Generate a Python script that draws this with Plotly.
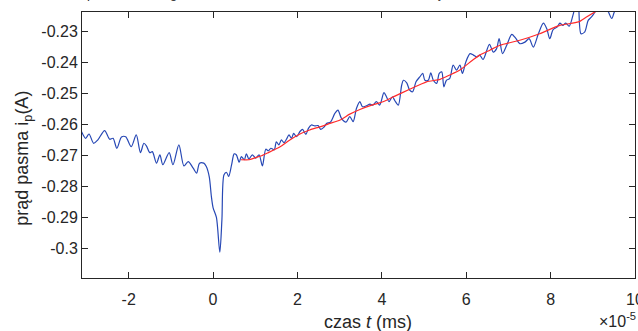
import plotly.graph_objects as go

# measured signal (time in units of 1e-5 ms)
t_signal = [-3.12, -3.02, -2.94, -2.83, -2.73, -2.57, -2.45, -2.37, -2.28, -2.17,
            -2.07, -1.94, -1.82, -1.72, -1.64, -1.58, -1.50, -1.44, -1.34, -1.26,
            -1.19, -1.04, -0.95, -0.81, -0.69, -0.59, -0.47, -0.39, -0.32, -0.22,
            -0.16, -0.09, -0.04, 0.00, 0.08, 0.16, 0.21, 0.26, 0.32, 0.37,
            0.44, 0.50, 0.55, 0.62, 0.67, 0.74, 0.79, 0.85, 0.93, 1.01,
            1.09, 1.17, 1.25, 1.31, 1.37, 1.45, 1.50, 1.56, 1.62, 1.68,
            1.74, 1.80, 1.86, 1.91, 1.98, 2.06, 2.12, 2.20, 2.26, 2.33,
            2.41, 2.49, 2.55, 2.63, 2.69, 2.78, 2.89, 2.96, 3.04, 3.15,
            3.24, 3.32, 3.40, 3.48, 3.54, 3.62, 3.72, 3.79, 3.87, 3.95,
            4.05, 4.11, 4.17, 4.25, 4.31, 4.39, 4.47, 4.51, 4.59, 4.66,
            4.73, 4.81, 4.90, 4.97, 5.02, 5.10, 5.16, 5.22, 5.30, 5.36,
            5.42, 5.47, 5.53, 5.61, 5.69, 5.77, 5.85, 5.91, 5.99, 6.09,
            6.17, 6.25, 6.32, 6.40, 6.55, 6.64, 6.72, 6.78, 6.86, 6.96,
            7.08, 7.18, 7.27, 7.39, 7.49, 7.59, 7.71, 7.83, 7.91, 7.98,
            8.06, 8.16, 8.22, 8.29, 8.36, 8.44, 8.54, 8.62, 8.66, 8.72,
            8.81, 8.89, 8.97, 9.05, 9.17, 9.29, 9.37, 9.45, 9.51, 9.64,
            9.88, 10.0]
i_signal = [-0.2622, -0.2644, -0.2630, -0.2660, -0.2649, -0.2619, -0.2647, -0.2644, -0.2676, -0.2640,
            -0.2639, -0.2671, -0.2633, -0.2690, -0.2660, -0.2668, -0.2690, -0.2687, -0.2724, -0.2697,
            -0.2729, -0.2690, -0.2729, -0.2665, -0.2733, -0.2719, -0.2740, -0.2756, -0.2724, -0.2724,
            -0.2735, -0.2768, -0.2831, -0.2867, -0.2899, -0.3011, -0.2906, -0.2761, -0.2754, -0.2767,
            -0.2729, -0.2694, -0.2697, -0.2721, -0.2703, -0.2713, -0.2694, -0.2711, -0.2697, -0.2708,
            -0.2697, -0.2733, -0.2679, -0.2684, -0.2676, -0.2681, -0.2655, -0.2665, -0.2649, -0.2658,
            -0.2647, -0.2633, -0.2644, -0.2628, -0.2639, -0.2622, -0.2615, -0.2631, -0.2612, -0.2601,
            -0.2604, -0.2603, -0.2615, -0.2608, -0.2596, -0.2592, -0.2563, -0.2553, -0.2579, -0.2592,
            -0.2574, -0.2590, -0.2547, -0.2526, -0.2542, -0.2540, -0.2534, -0.2537, -0.2526, -0.2537,
            -0.2497, -0.2510, -0.2526, -0.2510, -0.2523, -0.2537, -0.2473, -0.2457, -0.2465, -0.2489,
            -0.2494, -0.2462, -0.2446, -0.2435, -0.2457, -0.2457, -0.2433, -0.2457, -0.2467, -0.2435,
            -0.2430, -0.2478, -0.2457, -0.2451, -0.2408, -0.2424, -0.2408, -0.2435, -0.2398, -0.2371,
            -0.2376, -0.2382, -0.2376, -0.2390, -0.2341, -0.2366, -0.2355, -0.2323, -0.2371, -0.2344,
            -0.2309, -0.2323, -0.2339, -0.2334, -0.2323, -0.2350, -0.2307, -0.2273, -0.2291, -0.2323,
            -0.2294, -0.2285, -0.2273, -0.2280, -0.2273, -0.2283, -0.2242, -0.2200, -0.2216, -0.2307,
            -0.2301, -0.2264, -0.2253, -0.2237, -0.2200, -0.2216, -0.2237, -0.2258, -0.2237, -0.2200,
            -0.2180, -0.2180]

# linear-trend fit after the dip
t_fit = [0.66, 0.85, 0.99, 1.15, 1.31, 1.58, 1.82, 2.06, 2.29, 2.53,
         2.77, 3.01, 3.24, 3.48, 3.76, 4.03, 4.31, 4.66, 5.06, 5.38,
         5.61, 5.85, 6.17, 6.32, 6.56, 6.80, 7.27, 7.74, 8.22, 8.66,
         8.85, 9.05, 9.17]
i_fit = [-0.2713, -0.2713, -0.2707, -0.2700, -0.2690, -0.2672, -0.2649, -0.2630, -0.2617, -0.2607,
         -0.2596, -0.2585, -0.2566, -0.2551, -0.2537, -0.2526, -0.2508, -0.2486, -0.2462, -0.2454,
         -0.2440, -0.2424, -0.2390, -0.2376, -0.2360, -0.2344, -0.2328, -0.2307, -0.2280, -0.2269,
         -0.2253, -0.2237, -0.2229]

x_ticks = [-2, 0, 2, 4, 6, 8, 10]
x_tick_labels = ["-2", "0", "2", "4", "6", "8", "10"]
y_ticks = [-0.30, -0.29, -0.28, -0.27, -0.26, -0.25, -0.24, -0.23]
y_tick_labels = ["-0.3", "-0.29", "-0.28", "-0.27", "-0.26", "-0.25", "-0.24", "-0.23"]

title_text = "po zakłóceniu generatora w chwili zero całkowite średnie natężenie rośnie liniowo"
x_label = "czas <i>t</i> (ms)"
y_label = "prąd pasma i<sub>p</sub>(A)"
x_exponent = "×10<sup>-5</sup>"

FONT = "Liberation Sans, Arial, Helvetica, sans-serif"
AX = "#262626"

fig = go.Figure()
fig.add_trace(go.Scatter(x=t_signal, y=i_signal, mode="lines",
                         line=dict(color="#2748b5", width=1.2, shape="spline", smoothing=0.8),
                         hoverinfo="skip"))
fig.add_trace(go.Scatter(x=t_fit, y=i_fit, mode="lines",
                         line=dict(color="#ff2b2b", width=1.2, shape="spline", smoothing=0.6),
                         hoverinfo="skip"))

axis_common = dict(showgrid=False, zeroline=False, showline=True, linecolor=AX, linewidth=1,
                   mirror="ticks", ticks="inside", ticklen=6, tickcolor=AX, tickwidth=1,
                   ticklabeloverflow="allow",
                   tickfont=dict(family=FONT, size=16, color=AX))
fig.update_xaxes(range=[-3.106, 10.0], tickmode="array", tickvals=x_ticks, ticktext=x_tick_labels,
                 ticklabelstandoff=7, **axis_common)
fig.update_yaxes(range=[-0.3094, -0.2237], tickmode="array", tickvals=y_ticks, ticktext=y_tick_labels,
                 **axis_common)

fig.update_layout(
    width=638, height=331,
    margin=dict(l=82, r=3, t=12, b=53, autoexpand=False),
    plot_bgcolor="white", paper_bgcolor="white",
    showlegend=False,
    annotations=[
        dict(text=title_text, xref="paper", yref="paper", x=0.005, y=1.0,
             xanchor="left", yanchor="bottom", yshift=9, showarrow=False,
             font=dict(family=FONT, size=13, color=AX)),
        dict(text=x_label, xref="paper", yref="paper", x=0.517, y=-0.164,
             xanchor="center", yanchor="middle", showarrow=False,
             font=dict(family=FONT, size=18, color=AX)),
        dict(text=y_label, xref="paper", yref="paper", x=-0.105, y=0.452,
             xanchor="center", yanchor="middle", textangle=-90, showarrow=False,
             font=dict(family=FONT, size=18, color=AX)),
        dict(text=x_exponent, xref="paper", yref="paper", x=0.931, y=-0.157,
             xanchor="left", yanchor="middle", showarrow=False,
             font=dict(family=FONT, size=16, color=AX)),
    ],
)

fig.write_html("out.html", config={"displayModeBar": False},
               post_script="document.body.style.margin='0px';document.body.style.padding='0px';")
